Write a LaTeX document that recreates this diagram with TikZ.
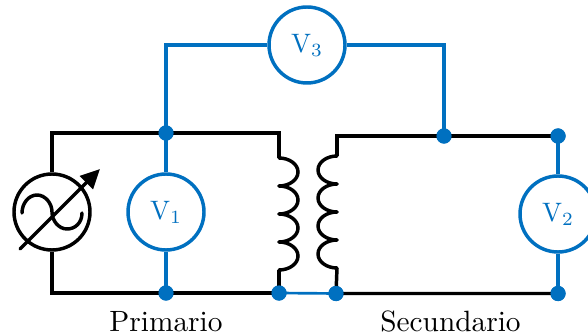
\documentclass[tikz,border=0pt]{standalone}
\usetikzlibrary{arrows.meta}
\definecolor{wireblue}{HTML}{0070C0}
\tikzset{
  wire/.style={line width=2.6pt,black,line join=miter},
  bwire/.style={line width=2.6pt,wireblue},
  meter/.style={circle,draw=wireblue,line width=2.6pt,minimum size=57pt,inner sep=0pt,fill=white,text=wireblue},
  source/.style={circle,draw=black,line width=2.6pt,minimum size=57pt,inner sep=0pt},
  dot/.style={circle,fill=wireblue,inner sep=0pt,minimum size=11.4pt},
  lab/.style={anchor=base,black,inner sep=0pt},
}
\newcommand{\coilright}[2]{(#1,#2) .. controls (#1+10,#2) and (#1+19,#2+6) .. (#1+19,#2+14) .. controls (#1+19,#2+22) and (#1+10,#2+28) .. (#1,#2+28)}
\newcommand{\coilleft}[2]{(#1,#2) .. controls (#1-10,#2) and (#1-19,#2+6) .. (#1-19,#2+14) .. controls (#1-19,#2+22) and (#1-10,#2+28) .. (#1,#2+28)}
\newcommand{\metertext}[1]{\scalebox{2}{V$_{#1}$}}
\newcommand{\labtext}[1]{\scalebox{2.2}{#1}}
\begin{document}
\begin{tikzpicture}[x=0.75pt,y=-0.75pt]
\clip (0,0) rectangle (588,334);
\fill[white] (0,0) rectangle (588,334);
% nodes
\node[source] (src) at (52,212) {};
\node[meter] (v1) at (166,212) {\metertext{1}};
\node[meter] (v2) at (558,214) {\metertext{2}};
\node[meter] (v3) at (307,45) {\metertext{3}};
\coordinate (tl) at (52,133);
\coordinate (bl) at (52,293);
\coordinate (pt) at (279,133);
\coordinate (pa) at (279,158);
\coordinate (pb) at (279,270);
\coordinate (st) at (337,136);
\coordinate (sa) at (337,156);
\coordinate (sb) at (337,268);
\coordinate (bt1) at (166,45);
\coordinate (bt2) at (444,45);
\node[dot] (d1) at (166,133) {};
\node[dot] (d2) at (166,293) {};
\node[dot] (d3) at (279,293) {};
\node[dot] (d4) at (336,293.5) {};
\node[dot] (d5) at (444,136) {};
\node[dot] (d6) at (558,136) {};
\node[dot] (d7) at (558,293.5) {};
% black wires
\draw[wire] (src.north) -- (tl) -- (d1.center) -- (pt) -- (pa);
\draw[wire] (src.south) -- (bl) -- (d3.center);
\draw[wire] (pb) -- (d3.center);
\draw[wire] (sa) -- (st) -- (d6.center);
\draw[wire] (sb) -- (d4.center) -- (d7.center);
% coils
\foreach \k in {158,186,214,242} \draw[wire,line cap=round] \coilright{279}{\k};
\foreach \k in {156,184,212,240} \draw[wire,line cap=round] \coilleft{337}{\k};
% source symbol
\draw[wire,line cap=round] (22,213) .. controls (22,203) and (29,195) .. (37,195)
  .. controls (45,195) and (52,203) .. (52,212)
  .. controls (52,221) and (59,229) .. (67,229)
  .. controls (75,229) and (82,223) .. (82,213);
\coordinate (at) at (20,249);
\coordinate (ah) at (100,169);
\draw[wire,line cap=round,-{Triangle[length=14.5pt,width=13.5pt]}] (at) -- (ah);
% blue wires
\draw[bwire] (d1.center) -- (v1.north);
\draw[bwire] (v1.south) -- (d2.center);
\draw[bwire] (d1.center) -- (bt1) -- (v3.west);
\draw[bwire] (v3.east) -- (bt2) -- (d5.center);
\draw[bwire] (d6.center) -- (v2.north);
\draw[bwire] (v2.south) -- (d7.center);
\draw[bwire,line width=2pt] (d3.center) -- (d4.center);
% dots above wires
\foreach \n in {d1,d2,d3,d4,d5,d6,d7} \fill[wireblue] (\n) circle[radius=5.7pt];
\node[lab] (prim) at (166,331) {\labtext{Primario}};
\node[lab] (sec) at (450.5,331) {\labtext{Secundario}};
\end{tikzpicture}
\end{document}
